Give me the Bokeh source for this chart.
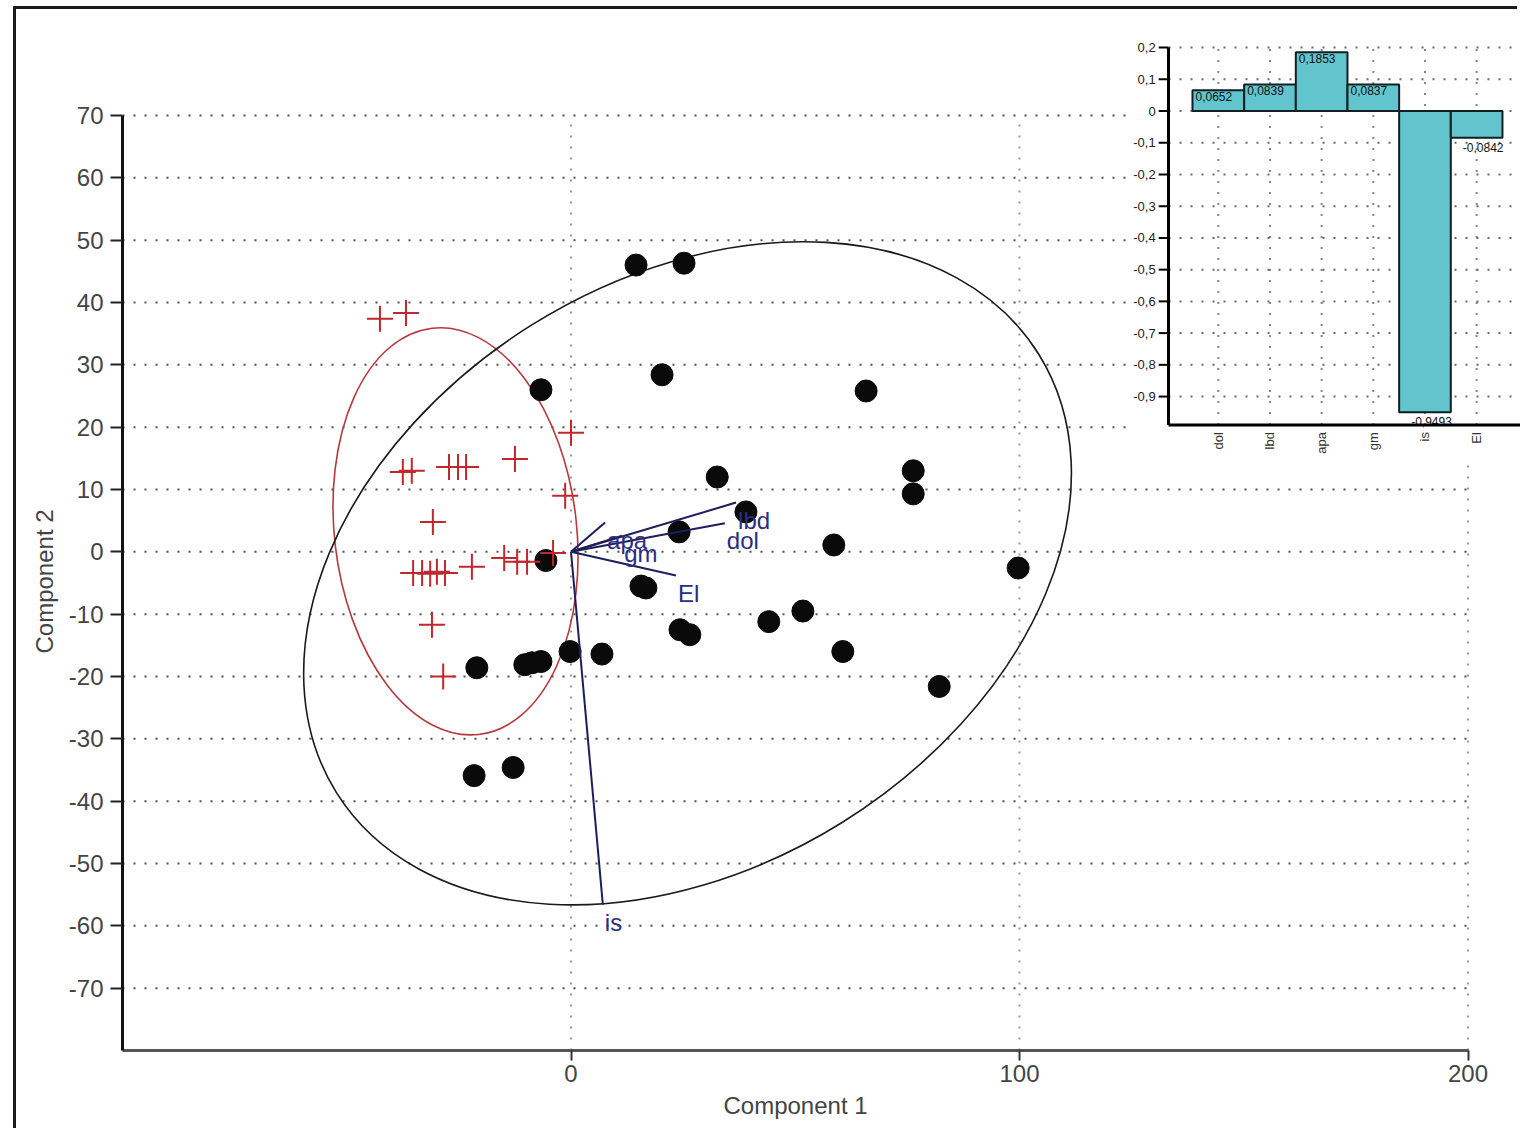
import math
from bokeh.plotting import figure
from bokeh.models import Range1d, FixedTicker, Title
from bokeh.core.properties import value
from bokeh.embed import file_html
from bokeh.resources import INLINE

# ---------------- data ----------------
# group 1 scores (red crosses)
g1_x = [-42.6, -36.8, 0.0, -12.5, -37.5, -35.5, -27.2, -25.2, -23.4, -1.3, -30.8,
        -35.2, -33.2, -31.4, -29.9, -28.1, -22.1, -14.9, -12.0, -9.8, -4.0, -31.0, -28.5]
g1_y = [37.4, 38.3, 19.1, 14.9, 12.8, 13.0, 13.6, 13.6, 13.6, 9.0, 4.8,
        -3.4, -3.4, -3.5, -3.2, -3.4, -2.4, -1.0, -1.6, -1.6, -0.2, -11.7, -20.0]
# group 2 scores (black dots)
g2_x = [14.5, 25.2, -6.7, 20.3, 65.8, 32.6, 76.3, 76.3, 39.0, 24.1, 58.6, 99.7, -5.6,
        16.7, 15.6, 51.7, 44.1, 24.3, 26.5, 60.6, 82.1, -0.2, 6.9, -21.0, -10.3, -6.7,
        -8.7, -21.6, -12.9]
g2_y = [46.0, 46.3, 26.0, 28.4, 25.8, 12.0, 13.0, 9.3, 6.4, 3.2, 1.1, -2.6, -1.4,
        -5.8, -5.5, -9.5, -11.2, -12.5, -13.3, -16.0, -21.6, -16.0, -16.4, -18.6, -18.1,
        -17.6, -17.8, -35.9, -34.6]

# 95% ellipses (group 1 red, group 2 black)
ell_x = [-25.75, 25.98]
ell_y = [3.29, -3.45]
ell_w = [54.0, 184.6]
ell_h = [65.6, 94.1]
ell_angle = [0.114, 0.5585]
ell_color = ["#b8383e", "#1a1a1a"]

# biplot loadings (scaled)
var_names = ["dol", "lbd", "apa", "gm", "is", "El"]
load_x = [34.3, 36.8, 7.6, 11.4, 7.1, 23.4]
load_y = [4.6, 7.9, 4.7, 2.6, -56.6, -3.8]

# inset: loadings on component 2
inset_cats = ["dol", "lbd", "apa", "gm", "is", "El"]
inset_vals = [0.0652, 0.0839, 0.1853, 0.0837, -0.9493, -0.0842]
inset_val_labels = ["0,0652", "0,0839", "0,1853", "0,0837", "-0,9493", "-0,0842"]
inset_yticks = [0.2, 0.1, 0.0, -0.1, -0.2, -0.3, -0.4, -0.5, -0.6, -0.7, -0.8, -0.9]
inset_ytick_labels = ["0,2", "0,1", "0", "-0,1", "-0,2", "-0,3", "-0,4", "-0,5",
                      "-0,6", "-0,7", "-0,8", "-0,9"]

x_ticks = [0, 100, 200]
y_ticks = [-70, -60, -50, -40, -30, -20, -10, 0, 10, 20, 30, 40, 50, 60, 70]

FONT = "Liberation Sans"
X_END = 211.7
IX_END = 5.849

# ---------------- figure ----------------
p = figure(width=1504, height=1122,
           x_range=Range1d(-100, X_END), y_range=Range1d(-80, 87.0),
           output_backend="svg", toolbar_location=None,
           min_border_left=106, min_border_right=0, min_border_top=0,
           min_border_bottom=81)
p.outline_line_color = None
p.xgrid.visible = False
p.ygrid.visible = False
p.margin = (9, 0, 0, 16)
p.styles = {"box-shadow": "-3px -3px 0px 0px #1c1c1c"}

xa = p.xaxis[0]
xa.ticker = FixedTicker(ticks=x_ticks)
xa.major_label_overrides = {t: str(t) for t in x_ticks}
xa.bounds = (-100, 200)
xa.axis_line_width = 3
xa.axis_line_color = "#555555"
xa.major_tick_line_width = 2
xa.major_tick_line_color = "#333333"
xa.major_tick_out = 10
xa.major_tick_in = 0
xa.minor_tick_line_color = None
xa.major_label_text_font = FONT
xa.major_label_text_font_size = "24px"
xa.major_label_text_color = "#444444"
xa.major_label_standoff = 4

ya = p.yaxis[0]
ya.ticker = FixedTicker(ticks=y_ticks)
ya.major_label_overrides = {t: str(t) for t in y_ticks}
ya.bounds = (-80, 70)
ya.axis_line_width = 3
ya.axis_line_color = "#111111"
ya.major_tick_line_width = 2
ya.major_tick_line_color = "#222222"
ya.major_tick_out = 12
ya.major_tick_in = 0
ya.minor_tick_line_color = None
ya.major_label_text_font = FONT
ya.major_label_text_font_size = "24px"
ya.major_label_text_color = "#444444"
ya.major_label_standoff = 7

# axis titles, placed so that they are centred on the axis bounds
p.add_layout(Title(text="Component 1", align="left", offset=601, standoff=10,
                   text_font=FONT, text_font_size="24px", text_font_style="normal",
                   text_color="#444444"), "below")
p.add_layout(Title(text="Component 2", align="left", offset=397, standoff=16,
                   text_font=FONT, text_font_size="24px", text_font_style="normal",
                   text_color="#444444"), "left")

# dotted grid (limited to the axis bounds)
p.segment(x0=-100, x1=200, y0=y_ticks, y1=y_ticks, line_color="#333333",
          line_width=2, line_alpha=0.85, line_dash="2 9")
p.segment(x0=x_ticks, x1=x_ticks, y0=-80, y1=70, line_color="#999999",
          line_width=2, line_dash="2 9")

# ellipses
p.ellipse(x=ell_x, y=ell_y, width=ell_w, height=ell_h, angle=ell_angle,
          fill_color=None, line_color=ell_color, line_width=1.6)

# scores
p.scatter(x=g2_x, y=g2_y, marker="circle", size=22, fill_color="#0a0a0a",
          line_color="#0a0a0a")
p.scatter(x=g1_x, y=g1_y, marker="cross", size=26, line_color="#c1272d",
          line_width=2)

# biplot vectors
p.segment(x0=0, y0=0, x1=load_x, y1=load_y, line_color="#1e1e5a", line_width=2)
p.text(x=load_x, y=load_y, text=var_names, x_offset=2, y_offset=4,
       text_align="left", text_baseline="top", text_font=value(FONT),
       text_font_size="24px", text_color="#2d2d80")

# ---------------- inset (loadings bar chart) ----------------
p.extra_x_ranges = {"ix": Range1d(-21.21, IX_END)}
p.extra_y_ranges = {"iy": Range1d(-2.961, 0.3199)}
ix0 = -0.964      # inset y-axis position (category units)
iy0 = -0.99       # inset x-axis position (value units)
tick_len = 0.19
idx = list(range(len(inset_cats)))

p.quad(left=-1.74, right=IX_END, bottom=-1.108, top=0.228, fill_color="white",
       line_color=None, x_range_name="ix", y_range_name="iy")
p.segment(x0=ix0, x1=IX_END, y0=inset_yticks, y1=inset_yticks, line_color="#444444",
          line_width=2, line_alpha=0.8, line_dash="2 9",
          x_range_name="ix", y_range_name="iy")
p.segment(x0=idx, x1=idx, y0=iy0, y1=0.2, line_color="#666666",
          line_width=2, line_alpha=0.8, line_dash="2 9",
          x_range_name="ix", y_range_name="iy")
p.vbar(x=idx, top=inset_vals, bottom=0, width=1.0, fill_color="#62c4cc",
       line_color="#0f1f22", line_width=2, x_range_name="ix", y_range_name="iy")

lab_xoff = [3 if v >= 0 else 12 for v in inset_vals]
lab_yoff = [2 if v >= 0 else 5 for v in inset_vals]
p.text(x=[i - 0.5 for i in idx], y=inset_vals, text=inset_val_labels,
       x_offset=lab_xoff, y_offset=lab_yoff, text_align="left",
       text_baseline="top", text_font=value(FONT), text_font_size="12px",
       text_color="#111111", x_range_name="ix", y_range_name="iy")

# inset axes
p.segment(x0=ix0, x1=ix0, y0=iy0, y1=0.2, line_color="#000000", line_width=3,
          x_range_name="ix", y_range_name="iy")
p.segment(x0=ix0, x1=IX_END, y0=iy0, y1=iy0, line_color="#000000", line_width=3,
          x_range_name="ix", y_range_name="iy")
p.segment(x0=ix0 - tick_len, x1=ix0, y0=inset_yticks, y1=inset_yticks,
          line_color="#000000", line_width=2, x_range_name="ix", y_range_name="iy")
p.text(x=ix0 - tick_len, y=inset_yticks, text=inset_ytick_labels, x_offset=-3,
       text_align="right", text_baseline="middle", text_font=value(FONT),
       text_font_size="13px", text_color="#222222",
       x_range_name="ix", y_range_name="iy")
p.text(x=idx, y=iy0, text=inset_cats, y_offset=7, angle=math.pi / 2,
       text_align="right", text_baseline="middle", text_font=value(FONT),
       text_font_size="13px", text_color="#333333",
       x_range_name="ix", y_range_name="iy")

open("out.html", "w").write(file_html(p, INLINE))
